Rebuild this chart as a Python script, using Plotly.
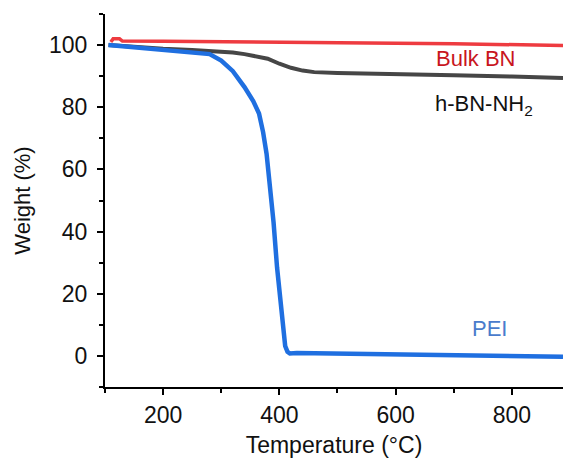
import plotly.graph_objects as go

# Thermogravimetric curves: temperature (°C) vs. residual weight (%)
pei_temp = [106, 150, 200, 250, 280, 300, 320, 340, 355, 365, 372, 378, 384,
            390, 396, 401, 406, 410, 414, 418, 430, 460, 500, 600, 700, 800, 888]
pei_weight = [100, 99.3, 98.6, 97.9, 97.1, 95.0, 91.6, 86.5, 82.0, 78.0, 72.0,
              65.0, 55.0, 43.0, 28.5, 18.6, 8.0, 3.2, 1.3, 0.8, 0.9, 0.8, 0.7,
              0.4, 0.2, 0.0, -0.3]

hbn_temp = [106, 150, 200, 250, 280, 300, 320, 340, 360, 380, 400, 420, 440,
            460, 500, 550, 600, 700, 800, 888]
hbn_weight = [100, 99.3, 98.8, 98.4, 98.1, 97.9, 97.6, 97.1, 96.3, 95.6, 94.0,
              92.7, 91.8, 91.3, 91.0, 90.9, 90.7, 90.3, 89.9, 89.4]

bulk_temp = [110, 114, 125, 130, 200, 300, 400, 500, 600, 700, 800, 888]
bulk_weight = [101.0, 102.0, 102.0, 101.3, 101.2, 101.1, 101.0, 100.8, 100.6,
               100.4, 100.2, 99.9]

series_labels = ["Bulk BN", "h-BN-NH<sub>2</sub>", "PEI"]

FONT = "Liberation Sans, Arial, Helvetica, sans-serif"

fig = go.Figure()
fig.add_trace(go.Scatter(x=hbn_temp, y=hbn_weight, mode="lines",
                         line=dict(color="#464646", width=4), name=series_labels[1]))
fig.add_trace(go.Scatter(x=pei_temp, y=pei_weight, mode="lines",
                         line=dict(color="#1f6fe0", width=4.5), name=series_labels[2]))
fig.add_trace(go.Scatter(x=bulk_temp, y=bulk_weight, mode="lines",
                         line=dict(color="#ee3b40", width=3.5), name=series_labels[0]))

# In-plot series labels
fig.add_annotation(x=738, y=95.7, text=series_labels[0], showarrow=False,
                   font=dict(family=FONT, size=22, color="#c8161e"))
fig.add_annotation(x=752, y=80.8, text=series_labels[1], showarrow=False,
                   font=dict(family=FONT, size=22, color="#111111"))
fig.add_annotation(x=762, y=8.7, text=series_labels[2], showarrow=False,
                   font=dict(family=FONT, size=22, color="#4a7ccc"))

axis_common = dict(
    showline=True, linecolor="black", linewidth=2,
    ticks="outside", ticklen=6, tickwidth=2, tickcolor="black",
    showgrid=False, zeroline=False, mirror=False,
    tickfont=dict(family=FONT, size=23, color="#111111"),
)

fig.update_xaxes(
    range=[100, 888], tickvals=[200, 400, 600, 800],
    minor=dict(tickvals=[100, 300, 500, 700], ticklen=4, tickwidth=2,
               tickcolor="black", ticks="outside"),
    title=dict(text="Temperature (°C)", font=dict(family=FONT, size=23, color="#111111"),
               standoff=10),
    **axis_common,
)
fig.update_yaxes(
    range=[-10, 110], tickvals=[0, 20, 40, 60, 80, 100],
    minor=dict(tickvals=[-10, 10, 30, 50, 70, 90, 110], ticklen=4, tickwidth=2,
               tickcolor="black", ticks="outside"),
    ticklabelstandoff=5,
    title=dict(text="Weight (%)", font=dict(family=FONT, size=22, color="#111111"),
               standoff=12),
    **axis_common,
)

fig.update_layout(
    width=563, height=461,
    margin=dict(l=105, r=0, t=14, b=74),
    paper_bgcolor="white", plot_bgcolor="white",
    showlegend=False,
)

fig.write_html("out.html")
